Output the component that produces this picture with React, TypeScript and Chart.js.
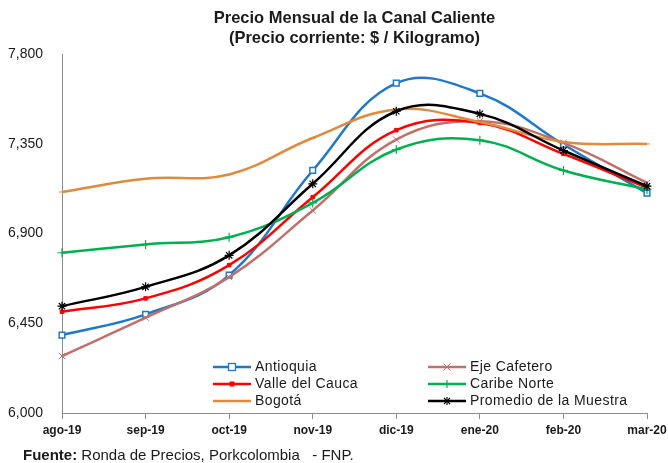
import React, { useEffect, useRef } from "react";
import { Chart, registerables } from "chart.js";

Chart.register(...registerables);

const categories = ["ago-19", "sep-19", "oct-19", "nov-19", "dic-19", "ene-20", "feb-20", "mar-20"];
const antioquia = [6391, 6495, 6692, 7217, 7655, 7604, 7347, 7103];
const ejeCafetero = [6286, 6478, 6682, 7016, 7372, 7464, 7355, 7155];
const valleDelCauca = [6508, 6575, 6742, 7083, 7419, 7455, 7300, 7130];
const caribeNorte = [6804, 6846, 6882, 7054, 7322, 7369, 7217, 7122];
const bogota = [7109, 7175, 7197, 7380, 7523, 7460, 7360, 7350];
const promedio = [6536, 6633, 6791, 7150, 7514, 7501, 7317, 7138];
const yTicks = [6000, 6450, 6900, 7350, 7800];

const FONT = 'Arial, "Liberation Sans", sans-serif';

type SeriesStyle = {
  label: string;
  data: number[];
  color: string;
  marker: string;
  radius: number;
  fill: string;
  markerWidth: number;
};

const series: SeriesStyle[] = [
  { label: "Antioquia", data: antioquia, color: "#1f78c8", marker: "rect", radius: 4, fill: "#ffffff", markerWidth: 1.5 },
  { label: "Eje Cafetero", data: ejeCafetero, color: "#c0706c", marker: "crossRot", radius: 4.5, fill: "#c0706c", markerWidth: 1 },
  { label: "Valle del Cauca", data: valleDelCauca, color: "#ff0000", marker: "rect", radius: 2.5, fill: "#ff0000", markerWidth: 1 },
  { label: "Caribe Norte", data: caribeNorte, color: "#00b050", marker: "cross", radius: 4.5, fill: "#00b050", markerWidth: 1.2 },
  { label: "Bogotá", data: bogota, color: "#df8a3e", marker: "line", radius: 3, fill: "#df8a3e", markerWidth: 1 },
  { label: "Promedio de la Muestra", data: promedio, color: "#000000", marker: "star", radius: 4.5, fill: "#000000", markerWidth: 1.2 },
];

function LegendMarker({ s }: { s: SeriesStyle }) {
  const c = s.color;
  const cx = 19;
  const cy = 6;
  let m: React.ReactNode = null;
  if (s.marker === "rect" && s.label === "Antioquia") {
    m = <rect x={cx - 3.5} y={cy - 3.5} width={7} height={7} fill="#fff" stroke={c} strokeWidth={1.3} />;
  } else if (s.marker === "rect") {
    m = <rect x={cx - 2.5} y={cy - 2.5} width={5} height={5} fill={c} />;
  } else if (s.marker === "crossRot") {
    m = (
      <g stroke={c} strokeWidth={1}>
        <line x1={cx - 3.5} y1={cy - 3.5} x2={cx + 3.5} y2={cy + 3.5} />
        <line x1={cx - 3.5} y1={cy + 3.5} x2={cx + 3.5} y2={cy - 3.5} />
      </g>
    );
  } else if (s.marker === "cross") {
    m = <line x1={cx} y1={cy - 4} x2={cx} y2={cy + 4} stroke={c} strokeWidth={1.2} />;
  } else if (s.marker === "star") {
    m = (
      <g stroke={c} strokeWidth={1.1}>
        <line x1={cx} y1={cy - 4} x2={cx} y2={cy + 4} />
        <line x1={cx - 3} y1={cy - 3} x2={cx + 3} y2={cy + 3} />
        <line x1={cx - 3} y1={cy + 3} x2={cx + 3} y2={cy - 3} />
      </g>
    );
  }
  return (
    <svg width={40} height={12} style={{ display: "block", flex: "none" }}>
      <line x1={0} y1={cy} x2={38} y2={cy} stroke={c} strokeWidth={2.5} />
      {m}
    </svg>
  );
}

export default function App() {
  const ref = useRef<HTMLCanvasElement | null>(null);

  useEffect(() => {
    document.body.style.margin = "0";
    const canvas = ref.current;
    if (!canvas) return;
    const chart = new Chart(canvas, {
      type: "line",
      data: {
        labels: categories,
        datasets: series.map((s, i) => ({
          label: s.label,
          data: s.data,
          borderColor: s.color,
          backgroundColor: s.fill,
          borderWidth: 2.5,
          tension: 0.4,
          pointStyle: s.marker as any,
          pointRadius: s.radius,
          pointBorderColor: s.color,
          pointBackgroundColor: s.fill,
          pointBorderWidth: s.markerWidth,
          pointHoverRadius: s.radius,
          fill: false,
          order: series.length - i,
        })),
      },
      options: {
        animation: false,
        responsive: false,
        maintainAspectRatio: false,
        layout: { padding: { top: 8, left: 0, right: 21, bottom: 20 } },
        plugins: {
          legend: { display: false },
          tooltip: { enabled: false },
          title: {
            display: true,
            fullSize: false,
            text: ["Precio Mensual de la Canal Caliente", "(Precio corriente: $ / Kilogramo)"],
            color: "#1a1a1a",
            font: { family: FONT, size: 16.5, weight: "bold", lineHeight: 1.22 },
            padding: { top: 0, bottom: 6 },
          },
        },
        scales: {
          x: {
            type: "category",
            offset: false,
            grid: {
              display: true,
              drawOnChartArea: false,
              drawTicks: true,
              tickLength: 6,
              color: "#8c8c8c",
            },
            border: { display: true, color: "#8c8c8c", width: 1 },
            ticks: {
              autoSkip: false,
              maxRotation: 0,
              minRotation: 0,
              padding: 4,
              color: "#1a1a1a",
              font: { family: FONT, size: 12, weight: "bold" },
            },
            afterFit: (scale: any) => {
              scale.height = 30;
              scale.paddingRight = 0;
              scale.paddingLeft = 0;
            },
          },
          y: {
            type: "linear",
            min: yTicks[0],
            max: yTicks[yTicks.length - 1],
            grid: { display: false },
            border: { display: true, color: "#8c8c8c", width: 1 },
            afterBuildTicks: (scale: any) => {
              scale.ticks = yTicks.map((v) => ({ value: v }));
            },
            ticks: {
              padding: 11,
              color: "#1a1a1a",
              font: { family: FONT, size: 14 },
              callback: (v: any) => Number(v).toLocaleString("en-US"),
            },
            afterFit: (scale: any) => {
              scale.width = 62;
            },
          },
        },
      },
    });
    return () => chart.destroy();
  }, []);

  const legendText: React.CSSProperties = {
    fontFamily: FONT,
    fontSize: 14,
    letterSpacing: 0.4,
    color: "#1a1a1a",
    marginLeft: 2,
    whiteSpace: "nowrap",
    lineHeight: "17px",
  };

  const cols = [
    [series[0], series[2], series[4]],
    [series[1], series[3], series[5]],
  ];
  const colLeft = [213, 428];

  return (
    <div style={{ position: "fixed", left: 0, top: 0, width: 668, height: 463, background: "#fff" }}>
      <canvas ref={ref} width={668} height={463} style={{ display: "block" }} />
      {cols.map((col, ci) => (
        <div key={ci} style={{ position: "absolute", left: colLeft[ci], top: 358 }}>
          {col.map((s) => (
            <div key={s.label} style={{ display: "flex", alignItems: "center", height: 17 }}>
              <LegendMarker s={s} />
              <span style={legendText}>{s.label}</span>
            </div>
          ))}
        </div>
      ))}
      <div
        style={{
          position: "absolute",
          left: 23,
          top: 446,
          fontFamily: FONT,
          fontSize: 15,
          color: "#1a1a1a",
          whiteSpace: "pre",
        }}
      >
        <b>Fuente:</b>
        {" Ronda de Precios, Porkcolombia   - FNP."}
      </div>
    </div>
  );
}
